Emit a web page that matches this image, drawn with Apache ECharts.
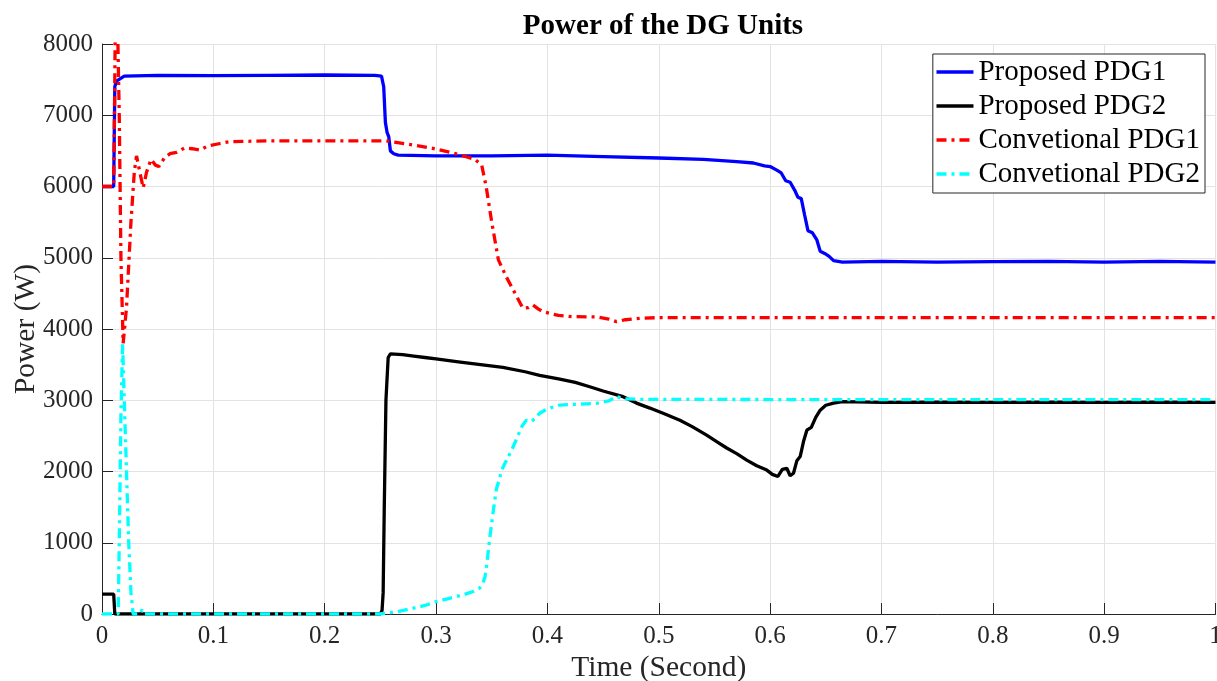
<!DOCTYPE html>
<html>
<head>
<meta charset="utf-8">
<script src="https://cdn.jsdelivr.net/npm/echarts@6/dist/echarts.min.js"></script>
<style>
html,body{margin:0;padding:0;background:#fff;}
#chart{width:1217px;height:681px;}
</style>
</head>
<body>
<div id="chart"></div>
<script>
const seriesNames = ['Proposed PDG1', 'Proposed PDG2', 'Convetional PDG1', 'Convetional PDG2'];
const xTicks = [0, 0.1, 0.2, 0.3, 0.4, 0.5, 0.6, 0.7, 0.8, 0.9, 1];
const yTicks = [0, 1000, 2000, 3000, 4000, 5000, 6000, 7000, 8000];

const proposedPDG1 = [[0,6000],[0.0105,6000],[0.0115,7400],[0.013,7480],[0.02,7550],[0.05,7560],[0.1,7555],[0.15,7560],[0.2,7565],[0.245,7560],[0.251,7550],[0.253,7400],[0.2545,6900],[0.256,6760],[0.2575,6700],[0.259,6500],[0.262,6460],[0.266,6440],[0.3,6430],[0.35,6430],[0.4,6440],[0.45,6420],[0.5,6400],[0.54,6380],[0.57,6350],[0.585,6330],[0.595,6290],[0.6,6280],[0.606,6230],[0.61,6190],[0.614,6080],[0.618,6060],[0.622,5950],[0.625,5850],[0.628,5830],[0.631,5600],[0.634,5380],[0.638,5350],[0.642,5250],[0.645,5090],[0.649,5060],[0.653,5020],[0.657,4960],[0.665,4940],[0.7,4950],[0.75,4940],[0.8,4945],[0.85,4950],[0.9,4940],[0.95,4950],[1.0,4940]];

const proposedPDG2 = [[0,280],[0.0105,280],[0.0115,0],[0.25,0],[0.2515,50],[0.2525,300],[0.2535,1500],[0.255,3000],[0.257,3600],[0.259,3650],[0.27,3640],[0.28,3620],[0.29,3600],[0.3,3580],[0.32,3540],[0.34,3500],[0.36,3460],[0.38,3400],[0.393,3350],[0.41,3300],[0.425,3250],[0.438,3190],[0.45,3130],[0.468,3050],[0.48,2960],[0.492,2890],[0.505,2810],[0.519,2720],[0.53,2630],[0.543,2510],[0.552,2420],[0.561,2330],[0.57,2250],[0.579,2160],[0.588,2080],[0.597,2020],[0.602,1960],[0.607,1930],[0.611,2030],[0.615,2045],[0.618,1940],[0.621,1975],[0.624,2150],[0.627,2210],[0.63,2420],[0.633,2580],[0.637,2620],[0.641,2760],[0.645,2860],[0.65,2930],[0.657,2960],[0.665,2980],[0.7,2970],[0.75,2975],[0.8,2970],[0.85,2975],[0.9,2970],[0.95,2975],[1,2970]];

const conventionalPDG1 = [[0,6000],[0.0105,6000],[0.0115,7500],[0.0125,9500],[0.014,9500],[0.0155,7000],[0.017,5000],[0.019,3800],[0.022,4300],[0.026,5500],[0.029,6200],[0.031,6430],[0.034,6200],[0.037,5980],[0.04,6200],[0.044,6380],[0.048,6300],[0.051,6280],[0.056,6400],[0.061,6460],[0.067,6480],[0.074,6540],[0.081,6530],[0.088,6510],[0.095,6570],[0.105,6600],[0.115,6630],[0.15,6640],[0.2,6640],[0.255,6640],[0.28,6580],[0.297,6536],[0.315,6470],[0.327,6418],[0.335,6380],[0.341,6300],[0.345,6000],[0.35,5500],[0.356,4970],[0.363,4734],[0.371,4500],[0.378,4290],[0.383,4300],[0.387,4337],[0.392,4280],[0.396,4243],[0.41,4190],[0.423,4173],[0.444,4170],[0.455,4140],[0.462,4103],[0.47,4130],[0.483,4150],[0.5,4160],[0.6,4160],[0.7,4160],[0.8,4160],[0.9,4160],[1,4160]];

const conventionalPDG2 = [[0,0],[0.0145,0],[0.0155,1000],[0.017,2800],[0.0185,3800],[0.02,3000],[0.022,2000],[0.024,1000],[0.026,300],[0.028,0],[0.034,0],[0.036,60],[0.038,0],[0.249,0],[0.265,30],[0.279,80],[0.29,120],[0.3,173],[0.312,220],[0.324,267],[0.334,320],[0.339,360],[0.342,430],[0.344,524],[0.346,750],[0.348,1040],[0.351,1400],[0.354,1740],[0.359,2021],[0.364,2180],[0.368,2302],[0.377,2629],[0.381,2720],[0.385,2700],[0.389,2740],[0.393,2817],[0.4,2880],[0.411,2933],[0.444,2957],[0.455,2990],[0.462,3050],[0.47,3020],[0.483,3013],[0.6,3010],[1,3010]];

const FONT = '"Liberation Serif", "Times New Roman", serif';
const chart = echarts.init(document.getElementById('chart'), null, {renderer: 'canvas'});

function mkSeries(name, data, color, type) {
  return {
    name: name, type: 'line', data: data, showSymbol: false, symbol: 'none',
    clip: true, animation: false,
    lineStyle: {color: color, width: 3.3, type: type},
    itemStyle: {color: color}
  };
}
const dashDot = [10, 5, 3, 5];

chart.setOption({
  backgroundColor: '#fff',
  animation: false,
  title: {
    text: 'Power of the DG Units', left: 658, top: 7, textAlign: 'center',
    textStyle: {fontFamily: FONT, fontSize: 29, fontWeight: 'bold', color: '#000'}
  },
  grid: {left: 102, right: 1.5, top: 44, bottom: 67, containLabel: false, outerBoundsMode: 'none'},
  legend: {
    orient: 'vertical', right: 12, top: 54,
    data: seriesNames,
    itemWidth: 37, itemHeight: 14, itemGap: 4,
    padding: [3, 5, 4, 2],
    borderColor: '#262626', borderWidth: 1, backgroundColor: '#fff',
    itemStyle: {opacity: 0},
    lineStyle: {width: 3.3},
    textStyle: {fontFamily: FONT, fontSize: 29, lineHeight: 30, color: '#000'}
  },
  xAxis: {
    type: 'value', min: 0, max: 1, interval: 0.1,
    name: 'Time (Second)', nameLocation: 'middle', nameGap: 39, nameMoveOverlap: false,
    nameTextStyle: {fontFamily: FONT, fontSize: 29.5, color: '#262626'},
    axisLine: {show: true, lineStyle: {color: '#262626', width: 1}},
    axisTick: {show: true, inside: true, length: 11, lineStyle: {color: '#262626'}},
    axisLabel: {fontFamily: FONT, fontSize: 25, color: '#262626', margin: 10,
      formatter: function (v) { return String(+v.toFixed(1)); }},
    splitLine: {show: true, lineStyle: {color: '#e3e3e3', width: 1}}
  },
  yAxis: {
    type: 'value', min: 0, max: 8000, interval: 1000,
    name: 'Power (W)', nameLocation: 'middle', nameGap: 61, nameMoveOverlap: false,
    nameTextStyle: {fontFamily: FONT, fontSize: 29.5, color: '#262626'},
    axisLine: {show: true, lineStyle: {color: '#262626', width: 1}},
    axisTick: {show: true, inside: true, length: 11, lineStyle: {color: '#262626'}},
    axisLabel: {fontFamily: FONT, fontSize: 25, color: '#262626', margin: 9,
      formatter: function (v) { return String(v); }},
    splitLine: {show: true, lineStyle: {color: '#e3e3e3', width: 1}}
  },
  series: [
    mkSeries(seriesNames[0], proposedPDG1, '#0000ff', 'solid'),
    mkSeries(seriesNames[1], proposedPDG2, '#000000', 'solid'),
    mkSeries(seriesNames[2], conventionalPDG1, '#ff0000', dashDot),
    mkSeries(seriesNames[3], conventionalPDG2, '#00ffff', dashDot)
  ]
});
</script>
</body>
</html>
